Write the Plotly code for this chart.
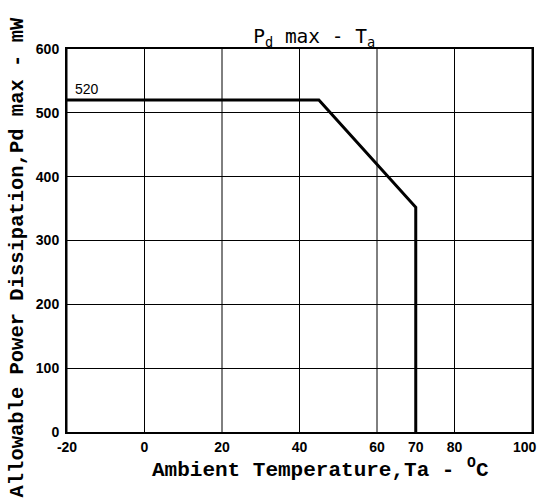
import plotly.graph_objects as go

temps = [-20, 45, 70, 70]
power = [520, 520, 352, 0]
x_ticks = [-20, 0, 20, 40, 60, 70, 80, 100]
x_grid = [-20, 0, 20, 40, 60, 80, 100]
y_ticks = [0, 100, 200, 300, 400, 500, 600]
label_520 = "520"

fig = go.Figure()
fig.add_trace(go.Scatter(x=temps, y=power, mode="lines",
                         line=dict(color="black", width=3), showlegend=False,
                         hoverinfo="skip"))
# vertical grid lines (70 is a tick only)
for gx in x_grid:
    fig.add_shape(type="line", x0=gx, x1=gx, y0=0, y1=600, xref="x", yref="y",
                  line=dict(color="black", width=1), layer="below")

tickfont = dict(family="Liberation Sans", size=14, color="black", weight="bold")
last_x = x_ticks[-1]
fig.update_xaxes(range=[-20, 100], tickvals=x_ticks,
                 ticktext=["" if v == last_x else str(v) for v in x_ticks],
                 showgrid=False, zeroline=False, showline=True, linecolor="black",
                 linewidth=2, mirror=True, ticks="", tickfont=tickfont, ticklabelstandoff=1,
                 automargin=False)
fig.update_yaxes(range=[0, 600], tickvals=y_ticks, showgrid=True, gridcolor="black",
                 gridwidth=1, zeroline=False, showline=True, linecolor="black",
                 linewidth=2, mirror=True, ticks="", tickfont=tickfont, ticklabelstandoff=3,
                 automargin=False)
# last x tick label, right-aligned so it stays inside the page
fig.add_annotation(x=last_x, y=0, yref="y", text=str(last_x), showarrow=False,
                   xanchor="right", yanchor="top", xshift=7, yshift=-5,
                   font=tickfont)

fig.add_annotation(x=-18.5, y=520, text=label_520, showarrow=False, xanchor="left",
                   yanchor="bottom", yshift=1, font=dict(family="Liberation Sans", size=14, color="black"))
fig.add_annotation(xref="paper", yref="paper", x=0.5, y=0, yanchor="middle",
                   yshift=-36, xshift=21,
                   text="<b>Ambient Temperature,Ta - <sup>O</sup>C</b>", showarrow=False,
                   font=dict(family="Liberation Mono", size=21, color="black"))
fig.add_annotation(xref="paper", yref="paper", x=0, y=0.5, xanchor="center", yanchor="middle",
                   xshift=-50, yshift=-17,
                   text="<b>Allowable Power Dissipation,Pd max - mW</b>", showarrow=False,
                   textangle=-90,
                   font=dict(family="Liberation Mono", size=20.5, color="black"))

fig.update_layout(
    width=539, height=503,
    margin=dict(l=67, r=7, t=49, b=71),
    paper_bgcolor="white", plot_bgcolor="white",
    title=dict(text="P<sub>d</sub> max - T<sub>a</sub>", x=0.583, xanchor="center", y=0.928,
               yanchor="middle", font=dict(family="DejaVu Sans Mono", size=19.5, color="black")),
)
fig.write_html("out.html", config={"displayModeBar": False},
               post_script="document.body.style.margin='0';document.body.style.overflow='hidden';")
